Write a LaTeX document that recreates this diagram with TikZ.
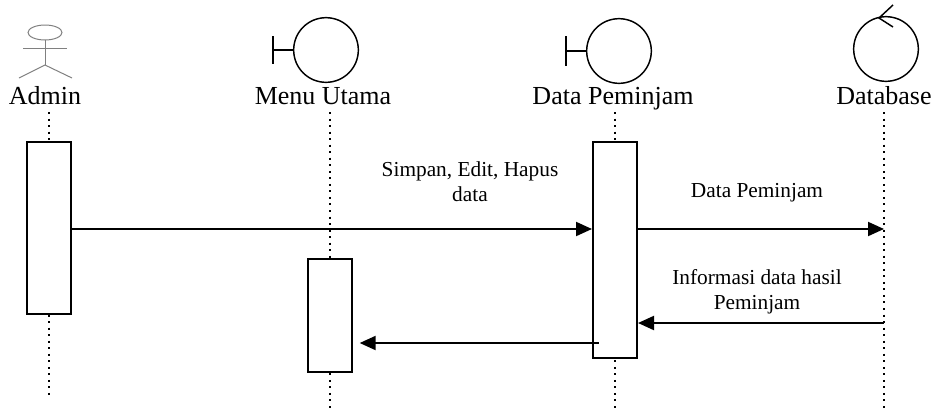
\documentclass[tikz,border=0pt]{standalone}
\usepackage{fontspec}
\setmainfont{Liberation Serif}
\usetikzlibrary{arrows.meta}

\begin{document}
\begin{tikzpicture}[x=0.75pt,y=-0.75pt,
  objlbl/.style={font=\fontsize{19.5}{23}\selectfont,anchor=base,inner sep=0pt},
  lbl/.style={font=\fontsize{16}{18.75}\selectfont,align=center,inner sep=0pt},
  life/.style={line width=1.5pt,dash pattern=on 1.5pt off 3.4pt},
  act/.style={draw,fill=white,line width=1.5pt,minimum width=33pt,inner sep=0pt},
  msg/.style={line width=1.5pt,-{Triangle[length=12pt,width=10.5pt]}},
  actor/.style={draw=gray,line width=0.75pt},
  icon/.style={line width=1.1pt},
  bnd/.style={draw,circle,line width=1.1pt,minimum size=48.5pt,inner sep=0pt}]
  % Configurable parameters
  \def\xA{49}
  \def\xM{330}
  \def\xD{615}
  \def\xB{884}
  \useasboundingbox (0,0) rectangle (936,408);
  %
  % Actor and icons
  \draw[actor] (45,32.5) ellipse [x radius=17, y radius=7.5];
  \draw[actor] (23,48) -- (67,48);
  \draw[actor] (45,40) -- (45,65);
  \draw[actor] (19,78) -- (45,65) -- (72,78);
  \node[bnd] (icM) at (326,50) {};
  \node[bnd] (icD) at (619,51) {};
  \node[bnd] (icB) at (886,49) {};
  \draw[icon] (icM.west) -- ++(-20,0) ++(0,-14) -- ++(0,28);
  \draw[icon] (icD.west) -- ++(-20,0) ++(0,-15) -- ++(0,30);
  \draw[icon] (893,5) -- (879,18) -- (893,27);
  %
  % Names
  \node[objlbl] (nA) at (45,104) {Admin};
  \node[objlbl] (nM) at (323,104) {Menu Utama};
  \node[objlbl] (nD) at (613,104) {Data Peminjam};
  \node[objlbl] (nB) at (884,104) {Database};
  %
  % Lifelines
  \draw[life] (\xA,112) -- (\xA,395);
  \draw[life] (\xM,112) -- (\xM,408);
  \draw[life] (\xD,112) -- (\xD,408);
  \draw[life] (\xB,112) -- (\xB,408);
  %
  % Activations
  \node[act,minimum height=129pt] (actA) at (\xA,228) {};
  \node[act,minimum height=84.75pt] (actM) at (\xM,315.5) {};
  \node[act,minimum height=162pt] (actD) at (\xD,250) {};
  \coordinate (llB) at (\xB,250);
  %
  % Messages
  \coordinate (m1) at (0,229);
  \coordinate (m2) at (0,323);
  \coordinate (m3) at (0,343);
  \draw[msg] (actA.east |- m1) -- (actD.west |- m1);
  \draw[msg] (actD.east |- m1) -- (llB |- m1);
  \draw[msg] (llB |- m2) -- (actD.east |- m2);
  \draw[msg] ([xshift=5pt]actD.west |- m3) -- ([xshift=5pt]actM.east |- m3);
  %
  % Labels
  \node[lbl] (l1) at (470,182) {Simpan, Edit, Hapus\\data};
  \node[lbl,anchor=base] (l2) at (757,197) {Data Peminjam};
  \node[lbl] (l3) at (757,292) {Informasi data hasil\\Peminjam};
  %
\end{tikzpicture}
\end{document}
